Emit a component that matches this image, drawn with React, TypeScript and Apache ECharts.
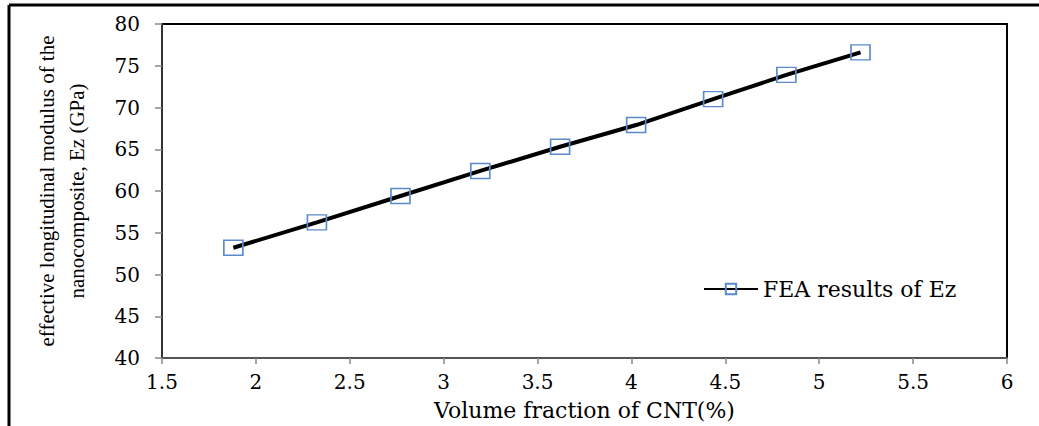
import React, { useEffect, useRef } from "react";
import * as echarts from "echarts";

const volumeFraction = [1.88, 2.325, 2.77, 3.195, 3.62, 4.025, 4.435, 4.825, 5.22];
const modulusEz = [53.2, 56.25, 59.4, 62.4, 65.3, 67.9, 71.0, 73.9, 76.6];
const seriesName = "FEA results of Ez";
const xTitle = "Volume fraction of CNT(%)";
const yTitle = "effective longitudinal modulus of the\nnanocomposite, Ez (GPa)";

export default function App() {
  const ref = useRef<HTMLDivElement>(null);
  useEffect(() => {
    if (!ref.current) return;
    const chart = echarts.init(ref.current, undefined, { renderer: "svg" });
    const data = volumeFraction.map((x, i) => [x, modulusEz[i]]);
    chart.setOption({
      animation: false,
      backgroundColor: "#ffffff",
      grid: {
        left: 162,
        right: 32,
        top: 24,
        bottom: 68,
        show: true,
        borderColor: "#000000",
        borderWidth: 2,
        backgroundColor: "transparent",
      },
      legend: {
        left: 698,
        top: 273,
        itemWidth: 54,
        itemHeight: 13,
        itemGap: 4,
        textStyle: { fontFamily: "DejaVu Serif", fontSize: 22, color: "#000" },
        data: [{ name: seriesName }],
      },
      xAxis: {
        type: "value",
        min: 1.5,
        max: 6,
        interval: 0.5,
        name: xTitle,
        nameLocation: "middle",
        nameGap: 41,
        nameTextStyle: { fontFamily: "DejaVu Serif", fontSize: 22, color: "#000" },
        axisLine: { show: true, lineStyle: { color: "#555555", width: 2 } },
        axisTick: { show: true, length: 6, lineStyle: { color: "#888888", width: 1.5 } },
        axisLabel: {
          margin: 14,
          fontFamily: "DejaVu Serif",
          fontSize: 20,
          color: "#000",
          formatter: (v: number) => String(v),
        },
        splitLine: { show: false },
      },
      yAxis: {
        type: "value",
        min: 40,
        max: 80,
        interval: 5,
        name: yTitle,
        nameLocation: "middle",
        nameRotate: 90,
        nameGap: 70,
        nameTextStyle: {
          fontFamily: "Liberation Serif",
          fontSize: 21,
          color: "#000",
          lineHeight: 30,
          align: "center",
        },
        axisLine: { show: true, lineStyle: { color: "#333333", width: 2 } },
        axisTick: { show: true, length: 7, lineStyle: { color: "#888888", width: 1.5 } },
        axisLabel: {
          margin: 22,
          fontFamily: "DejaVu Serif",
          fontSize: 20,
          color: "#000",
        },
        splitLine: { show: false },
      },
      series: [
        {
          name: seriesName,
          type: "line",
          data,
          symbol: "rect",
          symbolSize: [19, 15],
          showAllSymbol: true,
          lineStyle: { color: "#000000", width: 4 },
          itemStyle: { color: "transparent", borderColor: "#5b8bcc", borderWidth: 1.5 },
          emphasis: { disabled: true },
          z: 3,
        },
      ],
      graphic: [
        {
          type: "line",
          shape: { x1: 9, y1: 5, x2: 1039, y2: 5 },
          style: { stroke: "#000", lineWidth: 3 },
          silent: true,
        },
        {
          type: "line",
          shape: { x1: 9, y1: 5, x2: 9, y2: 426 },
          style: { stroke: "#000", lineWidth: 3 },
          silent: true,
        },
      ],
    });
    return () => chart.dispose();
  }, []);
  return (
    <div
      ref={ref}
      style={{ position: "absolute", left: 0, top: 0, width: 1039, height: 426 }}
    />
  );
}
